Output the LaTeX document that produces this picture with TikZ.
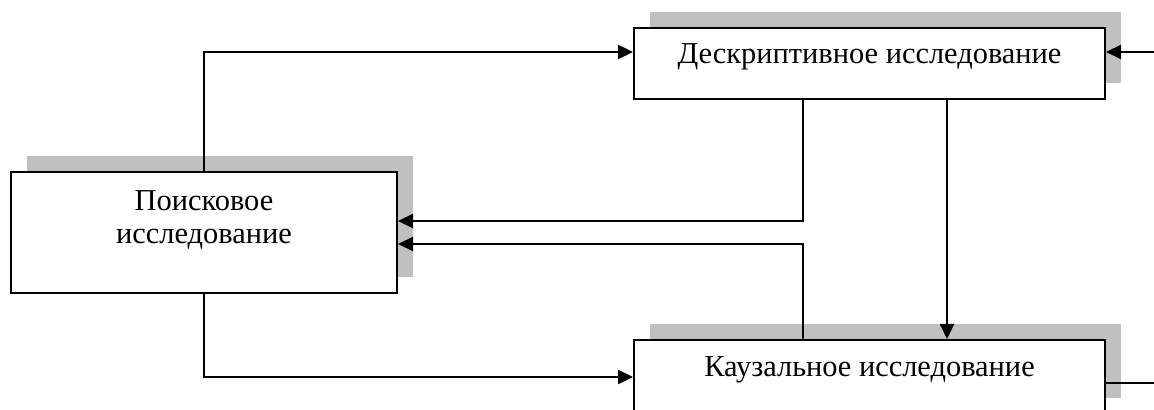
\documentclass[tikz,border=0pt]{standalone}
\usepackage{fontspec}
\setmainfont{Liberation Serif}
\usetikzlibrary{arrows.meta,shadows}
\definecolor{shade}{RGB}{192,192,192}
\begin{document}
\begin{tikzpicture}[x=0.5pt,y=-0.5pt,
  box/.style={draw=black,line width=1pt,fill=white,inner sep=0pt,
    general shadow={fill=shade,shadow xshift=8pt,shadow yshift=8pt}},
  lbl/.style={font=\fontsize{15.2}{16.5}\selectfont,inner sep=0pt,align=center},
  conn/.style={line width=1.1pt},
  arr/.style={conn,-{Triangle[length=7.5pt,width=7pt]}}]
\useasboundingbox (0,0) rectangle (1154,410);
\clip (0,0) rectangle (1154,410);
% boxes
\node[box,minimum width=235.5pt,minimum height=35.5pt] (desc) at (869.5,63.5) {};
\node[box,minimum width=193pt,minimum height=60.5pt] (search) at (204,232.5) {};
\node[box,minimum width=235.5pt,minimum height=37pt] (caus) at (869.5,377) {};
% texts
\node[lbl,anchor=base] (tdesc) at (869.5,64) {Дескриптивное исследование};
\node[lbl] (tsearch) at (204,220) {Поисковое\\исследование};
\node[lbl,anchor=base] (tcaus) at (869.5,377) {Каузальное исследование};
% free ends
\coordinate (rin) at (1154,52);
\coordinate (rout) at (1154,383);
% connectors
\draw[arr] (search.north) |- ([yshift=5.75pt]desc.west);
\draw[arr] (search.south) |- (caus.west);
\draw[arr] ([xshift=-33.25pt]desc.south) |- ([yshift=5.75pt]search.east);
\draw[arr] ([xshift=-33.25pt]caus.north) |- ([yshift=-5.75pt]search.east);
\draw[arr] ([xshift=38.75pt]desc.south) -- ([xshift=38.75pt]caus.north);
\draw[arr] (rin) -- ([yshift=5.75pt]desc.east);
\draw[conn] ([yshift=-3pt]caus.east) -- (rout);
\end{tikzpicture}
\end{document}
